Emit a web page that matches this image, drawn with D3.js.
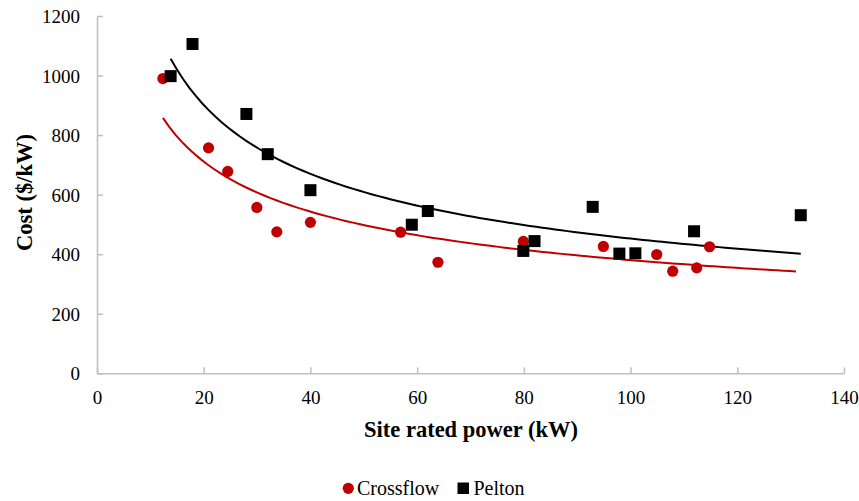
<!DOCTYPE html>
<html>
<head>
<meta charset="utf-8">
<script src="https://cdn.jsdelivr.net/npm/d3@7"></script>
</head>
<body style="margin:0">
<svg id="chart" width="859" height="501"></svg>
<script>
// data
var crossX = [12.35, 20.9, 24.5, 29.95, 33.7, 40, 56.9, 63.9, 79.9, 94.9, 104.9, 107.9, 112.4, 114.8];
var crossY = [990, 757, 678, 557, 475, 507, 474, 373, 443, 426, 399, 343, 354, 425];
var peltonX = [13.8, 17.9, 28, 32, 40, 59, 62, 79.9, 82, 92.9, 97.9, 100.9, 111.9, 131.9];
var peltonY = [998, 1106, 871, 736, 615, 499, 545, 411, 444, 559, 402, 403, 477, 531];
var xTicks = [0, 20, 40, 60, 80, 100, 120, 140];
var yTicks = [0, 200, 400, 600, 800, 1000, 1200];
// x span drawn for each power trendline
var crossTrendSpan = [12.35, 131];
var peltonTrendSpan = [13.8, 131.9];

var red = '#c00000';
var axisColor = '#bfbfbf';

var svg = d3.select('#chart');

var xScale = d3.scaleLinear()
    .domain([0, 140])
    .range([97, 844]);

var yScale = d3.scaleLinear()
    .domain([0, 1200])
    .range([373.3, 16]);

// power-law fit y = a * x^b (least squares in log space)
function powerFit(xs, ys) {
    var lx = xs.map(Math.log), ly = ys.map(Math.log);
    var mx = d3.mean(lx), my = d3.mean(ly);
    var sxy = d3.sum(lx, function (d, i) { return (d - mx) * (ly[i] - my); });
    var sxx = d3.sum(lx, function (d) { return (d - mx) * (d - mx); });
    var b = sxy / sxx;
    var a = Math.exp(my - b * mx);
    return function (x) { return a * Math.pow(x, b); };
}

var line = d3.line()
    .x(function (d) { return xScale(d[0]); })
    .y(function (d) { return yScale(d[1]); });

function trend(xs, ys, span, color) {
    var f = powerFit(xs, ys);
    var pts = d3.range(0, 101).map(function (i) {
        var x = span[0] + (span[1] - span[0]) * i / 100;
        return [x, f(x)];
    });
    svg.append('path')
        .datum(pts)
        .attr('d', line)
        .attr('fill', 'none')
        .attr('stroke', color)
        .attr('stroke-width', 2);
}

// axes, ticks pointing inward like Excel
var gx = svg.append('g')
    .attr('transform', 'translate(0,373.3)')
    .call(d3.axisBottom(xScale).tickValues(xTicks).tickFormat(d3.format('d'))
        .tickSizeInner(-6).tickSizeOuter(0).tickPadding(17));
var gy = svg.append('g')
    .attr('transform', 'translate(97,0)')
    .call(d3.axisLeft(yScale).tickValues(yTicks).tickFormat(d3.format('d'))
        .tickSizeInner(-6).tickSizeOuter(0).tickPadding(17));

[gx, gy].forEach(function (g) {
    g.attr('font-family', null);
    g.selectAll('path, line').attr('stroke', axisColor).attr('stroke-width', 1.5);
    g.selectAll('text').attr('fill', '#000');
});
gy.selectAll('text').attr('dy', '0.34em');

trend(crossX, crossY, crossTrendSpan, red);
trend(peltonX, peltonY, peltonTrendSpan, '#000');

// crossflow circles
svg.selectAll('circle.cross')
    .data(crossX)
    .enter()
    .append('circle')
    .attr('class', 'cross')
    .attr('cx', function (d) { return xScale(d); })
    .attr('cy', function (d, i) { return yScale(crossY[i]); })
    .attr('r', 5.6)
    .attr('fill', red);

// pelton squares
var sq = 12;
svg.selectAll('rect.pelton')
    .data(peltonX)
    .enter()
    .append('rect')
    .attr('class', 'pelton')
    .attr('x', function (d) { return xScale(d) - sq / 2; })
    .attr('y', function (d, i) { return yScale(peltonY[i]) - sq / 2; })
    .attr('width', sq)
    .attr('height', sq)
    .attr('fill', '#000');

// axis titles
svg.append('text')
    .attr('class', 'title')
    .attr('x', 471)
    .attr('y', 437)
    .attr('text-anchor', 'middle')
    .text('Site rated power (kW)');

svg.append('text')
    .attr('class', 'title')
    .attr('transform', 'translate(32,192.5) rotate(-90)')
    .attr('text-anchor', 'middle')
    .text('Cost ($/kW)');

// legend
svg.append('circle')
    .attr('cx', 348.3).attr('cy', 488.3).attr('r', 5.6).attr('fill', red);
svg.append('text')
    .attr('class', 'legend')
    .attr('x', 357).attr('y', 494.5)
    .text('Crossflow');
svg.append('rect')
    .attr('x', 457.5).attr('y', 482.5).attr('width', 11.5).attr('height', 11.5).attr('fill', '#000');
svg.append('text')
    .attr('class', 'legend')
    .attr('x', 473.5).attr('y', 494.5)
    .text('Pelton');

// one serif face for every label, set inline on each text
svg.selectAll('g text').style('font', "19px 'Liberation Serif'");
svg.selectAll('text.title').style('font', "bold 22.5px 'Liberation Serif'");
svg.selectAll('text.legend').style('font', "20px 'Liberation Serif'");
</script>
</body>
</html>
